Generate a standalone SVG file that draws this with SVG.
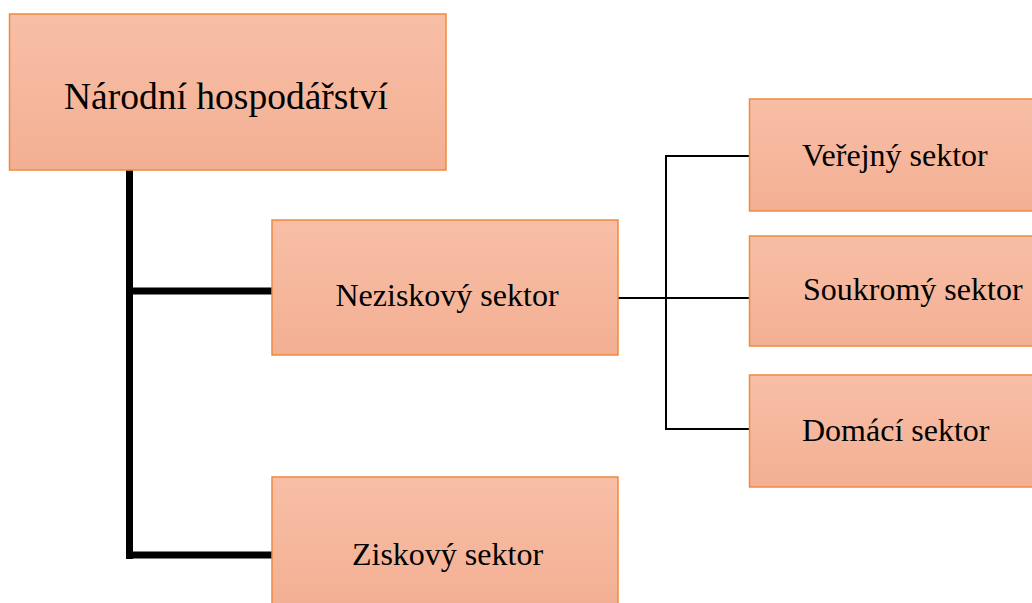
<svg xmlns="http://www.w3.org/2000/svg" width="1032" height="603" viewBox="0 0 1032 603">
<defs>
<linearGradient id="g" x1="0" y1="0" x2="0" y2="1">
<stop offset="0" stop-color="#F8BFA6"/>
<stop offset="1" stop-color="#F3AF93"/>
</linearGradient>
<style>
.box{fill:url(#g);stroke:#F08A3E;stroke-width:1.5}
.t{font-family:"Liberation Serif","Times New Roman",serif;fill:#000;font-size:32px}
.thick{stroke:#000;stroke-width:7;fill:none}
.thin{stroke:#000;stroke-width:2;fill:none}
</style>
</defs>
<rect width="1032" height="603" fill="#fff"/>
<g id="connectors">
<path class="thick" d="M129.5 170 V559"/>
<path class="thick" d="M129.5 291 H272"/>
<path class="thick" d="M129.5 555 H272"/>
<path class="thin" d="M618 298 H750"/>
<path class="thin" d="M750 156 H666 V429 H750"/>
</g>
<g id="n-narodni">
<rect class="box" x="9.5" y="14" width="436.5" height="156"/>
<text class="t" x="226" y="108.5" style="font-size:37.5px" text-anchor="middle">Národní hospodářství</text>
</g>
<g id="n-neziskovy">
<rect class="box" x="272" y="220" width="346" height="135"/>
<text class="t" x="447" y="306" text-anchor="middle">Neziskový sektor</text>
</g>
<g id="n-ziskovy">
<rect class="box" x="272" y="477" width="346" height="130"/>
<text class="t" x="447.5" y="565" text-anchor="middle">Ziskový sektor</text>
</g>
<g id="n-verejny">
<rect class="box" x="749.5" y="99" width="290" height="112"/>
<text class="t" x="802" y="166">Veřejný sektor</text>
</g>
<g id="n-soukromy">
<rect class="box" x="749.5" y="236" width="290" height="110"/>
<text class="t" x="803" y="300">Soukromý sektor</text>
</g>
<g id="n-domaci">
<rect class="box" x="749.5" y="375" width="290" height="112"/>
<text class="t" x="802" y="441">Domácí sektor</text>
</g>
</svg>
